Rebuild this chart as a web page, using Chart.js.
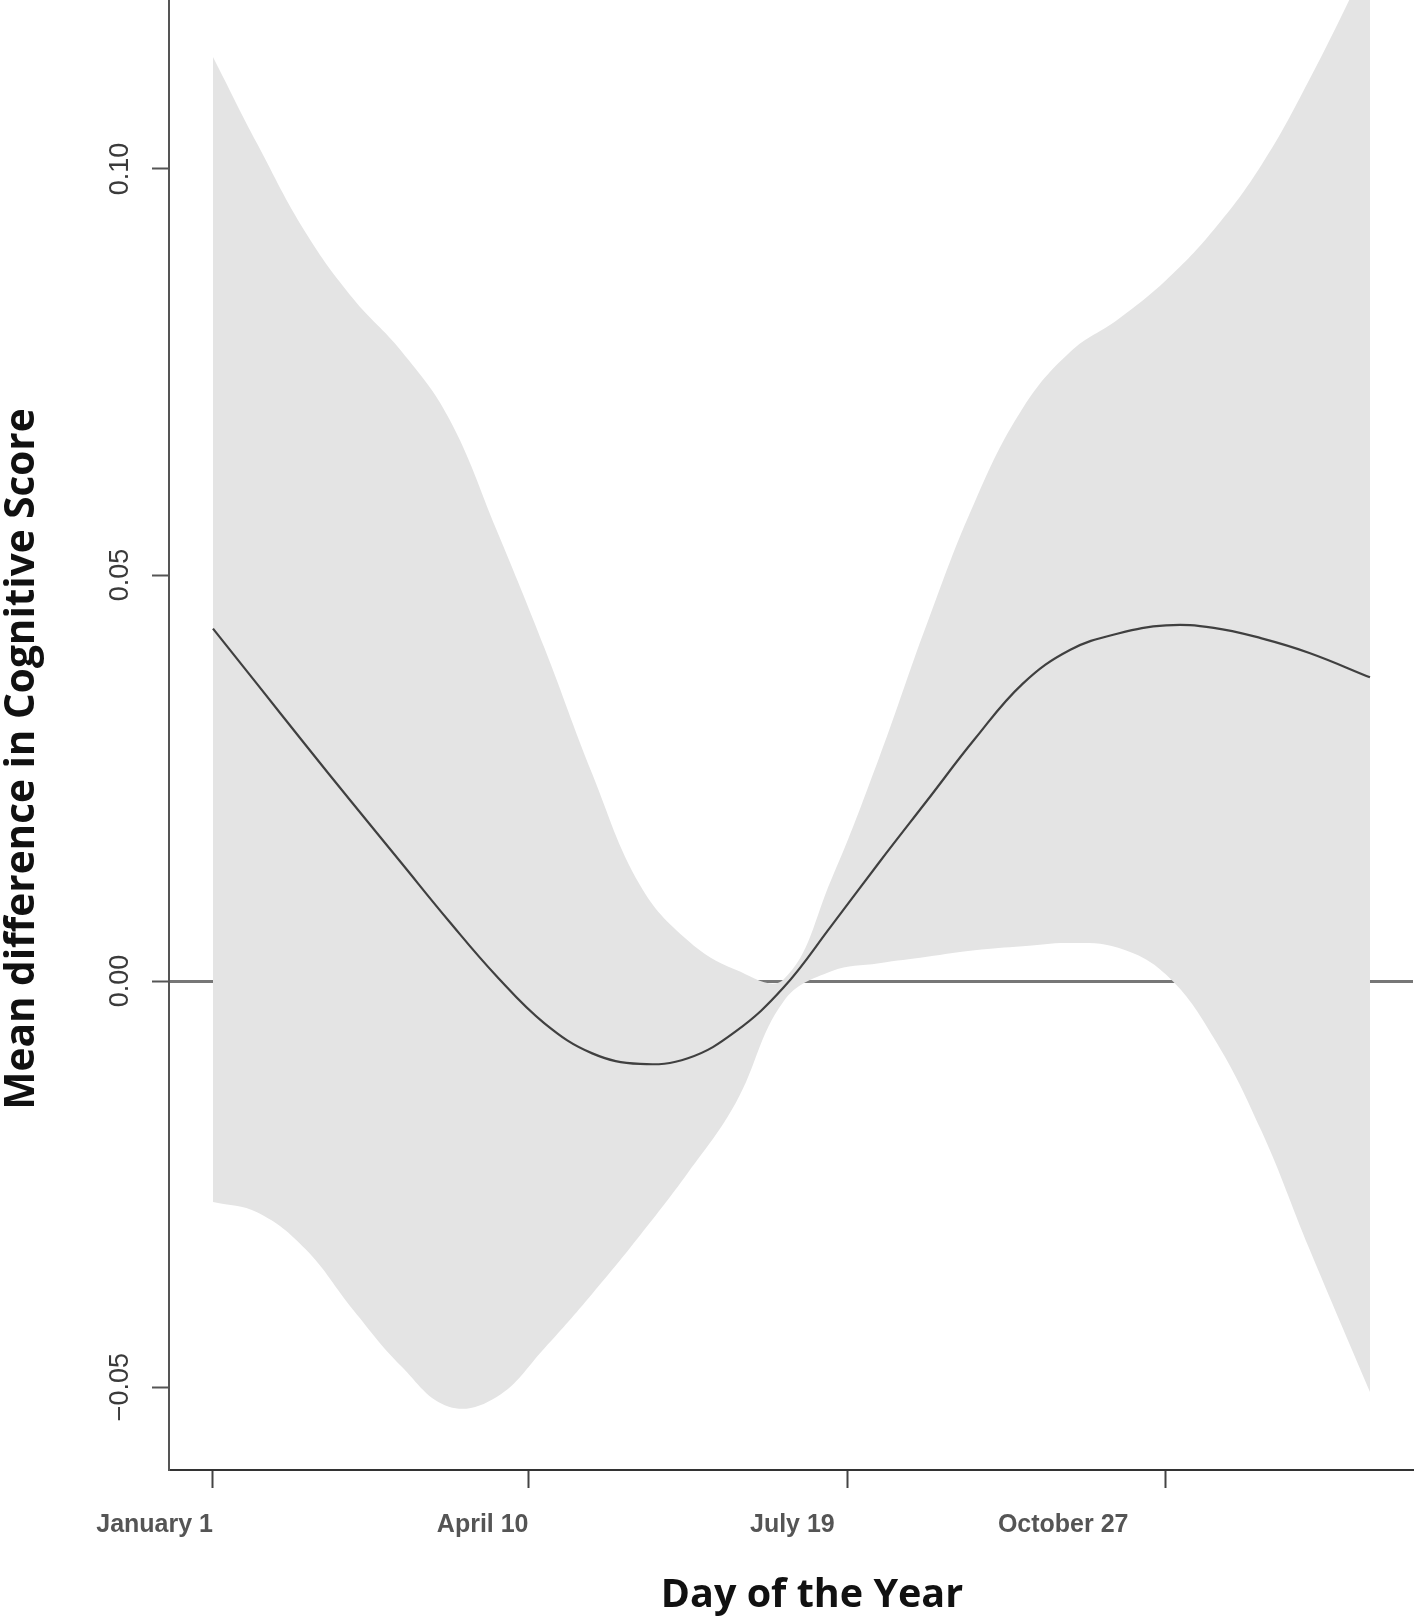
<!DOCTYPE html>
<html lang="en">
<head>
  <meta charset="UTF-8">
  <title>Mean difference in Cognitive Score by Day of the Year</title>
  <script src="https://cdn.jsdelivr.net/npm/chart.js"></script>
  <style>
    html, body {
      margin: 0;
      padding: 0;
      background: #ffffff;
    }
    .chart-box {
      position: relative;
      width: 1418px;
      height: 1619px;
    }
  </style>
</head>
<body>
<div class="chart-box">
  <canvas id="seasonChart"></canvas>
</div>

<script>
  const days = [1, 15, 30, 45, 60, 75, 90, 105, 120, 135, 150, 165, 180, 195, 210, 225, 240, 255, 270, 285, 300, 315, 330, 345, 364];

  // Fitted mean difference
  const fitValues = [0.0434, 0.0365, 0.0291, 0.0218, 0.0146, 0.0074, 0.0006, -0.0052, -0.0089, -0.0102, -0.0095, -0.0062, -0.0008, 0.0068, 0.0146, 0.0222, 0.0298, 0.0366, 0.0408, 0.0428, 0.0438, 0.0435, 0.0422, 0.0404, 0.0374];

  // Confidence band
  const upperValues = [0.1138, 0.1030, 0.0922, 0.0840, 0.0776, 0.0693, 0.0555, 0.0410, 0.0255, 0.0118, 0.0050, 0.0014, 0.0002, 0.0125, 0.0275, 0.0440, 0.0590, 0.0705, 0.0775, 0.0815, 0.0863, 0.0925, 0.1005, 0.1110, 0.1260];
  const lowerValues = [-0.0272, -0.0285, -0.0330, -0.0405, -0.0474, -0.0524, -0.0512, -0.0452, -0.0385, -0.0313, -0.0236, -0.0150, -0.0025, 0.0012, 0.0022, 0.0030, 0.0038, 0.0043, 0.0047, 0.0041, 0.0008, -0.0070, -0.0185, -0.0330, -0.0506];

  // Axis ticks and titles
  const xTickDays = [1, 100, 200, 300];
  const xTickLabels = ['January 1', 'April 10', 'July 19', 'October 27'];
  const yTickValues = [-0.05, 0.00, 0.05, 0.10];
  const xTitle = 'Day of the Year';
  const yTitle = 'Mean difference in Cognitive Score';

  // labels in the original sit a little left of their ticks
  const xLabelPad = ['', '', '\u2002', '\u2002\u2002\u2002'];

  const toPoints = (vals) => days.map((d, i) => ({ x: d, y: vals[i] }));

  // axis titles, placed like the original (slightly off the axis centre)
  const axisTitles = {
    id: 'axisTitles',
    afterDraw(chart) {
      const c = chart.ctx;
      const area = chart.chartArea;
      c.save();
      c.fillStyle = '#111111';
      c.textAlign = 'center';
      c.textBaseline = 'alphabetic';
      c.font = 'bold 39.5px "Open Sans", sans-serif';
      c.fillText(xTitle, (area.left + area.right) / 2 + 21, chart.height - 12);
      c.font = 'bold 40.5px "Open Sans", sans-serif';
      c.translate(34, (area.top + area.bottom) / 2 + 24);
      c.rotate(-Math.PI / 2);
      c.fillText(yTitle, 0, 0);
      c.restore();
    }
  };

  const ctx = document.getElementById('seasonChart').getContext('2d');

  new Chart(ctx, {
    type: 'line',
    data: {
      datasets: [
        {
          label: 'Upper',
          data: toPoints(upperValues),
          order: 1,
          borderWidth: 0,
          borderColor: 'rgba(0,0,0,0)',
          backgroundColor: '#e4e4e4',
          pointRadius: 0,
          fill: '+1',
          tension: 0.4
        },
        {
          label: 'Lower',
          data: toPoints(lowerValues),
          order: 2,
          borderWidth: 0,
          borderColor: 'rgba(0,0,0,0)',
          pointRadius: 0,
          fill: false,
          tension: 0.4
        },
        {
          label: 'Mean difference',
          data: toPoints(fitValues),
          order: 0,
          borderColor: '#404040',
          borderWidth: 2.2,
          pointRadius: 0,
          fill: false,
          tension: 0.4
        }
      ]
    },
    options: {
      responsive: true,
      maintainAspectRatio: false,
      animation: false,
      layout: {
        padding: { left: 0, right: 5, top: 0, bottom: 0 }
      },
      plugins: {
        legend: { display: false },
        tooltip: { enabled: false }
      },
      scales: {
        x: {
          type: 'linear',
          min: -12.8,
          max: 377.5,
          afterBuildTicks: (scale) => {
            scale.ticks = xTickDays.map(v => ({ value: v }));
          },
          afterFit: (scale) => {
            scale.height = 149;
            scale.paddingLeft = 0;
            scale.paddingRight = 0;
          },
          ticks: {
            autoSkip: false,
            maxRotation: 0,
            align: 'end',
            padding: 22,
            color: '#555555',
            font: { family: '"Liberation Sans", Arial, sans-serif', size: 25, weight: 'bold' },
            callback: (value, index) => xTickLabels[index] + xLabelPad[index]
          },
          grid: {
            drawOnChartArea: false,
            color: 'rgba(0,0,0,0)',
            tickColor: '#444444',
            tickLength: 18,
            tickWidth: 2
          },
          border: { display: true, color: '#333333', width: 2 },
          title: { display: false }
        },
        y: {
          type: 'linear',
          min: -0.0602,
          max: 0.1208,
          z: 1,
          afterBuildTicks: (scale) => {
            scale.ticks = yTickValues.map(v => ({ value: v }));
          },
          afterFit: (scale) => {
            scale.width = 169;
            scale.paddingTop = 0;
            scale.paddingBottom = 0;
          },
          ticks: {
            minRotation: 90,
            maxRotation: 90,
            crossAlign: 'center',
            padding: -3,
            color: '#3a3a3a',
            font: { family: '"Liberation Sans", Arial, sans-serif', size: 27 },
            callback: (value) => (value < 0 ? '\u2212' : '') + Math.abs(value).toFixed(2)
          },
          grid: {
            drawOnChartArea: true,
            color: (c) => (c.tick && c.tick.value === 0 ? '#777777' : 'rgba(0,0,0,0)'),
            lineWidth: (c) => (c.tick && c.tick.value === 0 ? 3 : 1),
            tickColor: '#555555',
            tickLength: 17,
            tickWidth: 2
          },
          border: { display: true, color: '#555555', width: 2 },
          title: { display: false }
        }
      }
    },
    plugins: [axisTitles]
  });
</script>
</body>
</html>
